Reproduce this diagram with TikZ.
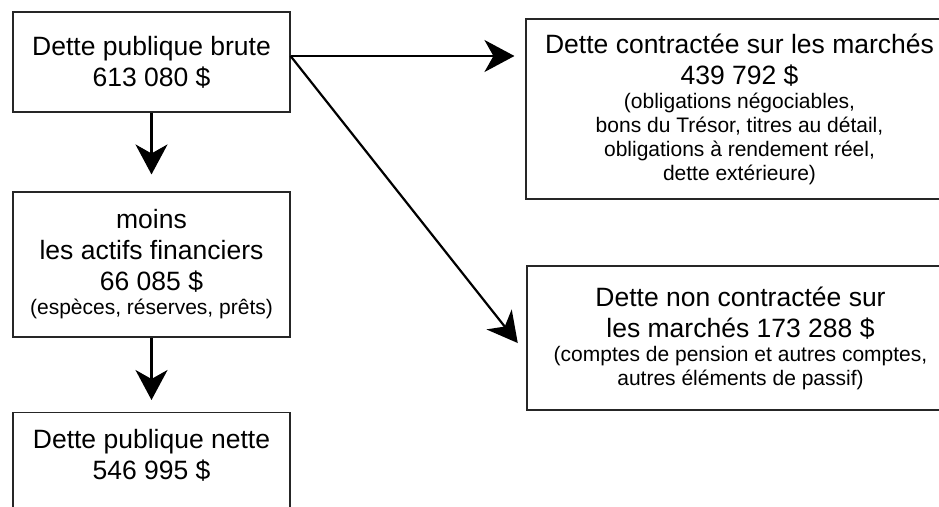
\documentclass[tikz,border=0pt]{standalone}
\usepackage{fontspec}
\usepackage{tikz}
\usetikzlibrary{arrows.meta}
\setmainfont{Liberation Sans}
\newcommand*{\scalePic}{1}
\newcommand*{\bigTxt}{\fontsize{26.5}{31}\selectfont}
\newcommand*{\smallTxt}{\fontsize{21}{23.5}\selectfont}
\newcommand*{\boxCol}{black!85}

\begin{document}
\begin{tikzpicture}[x=\scalePic pt, y=-\scalePic pt,
    box/.style={draw=\boxCol, line width=1.1pt, align=center, inner sep=0pt, font=\bigTxt},
    link/.style={line width=2.2pt, -{Stealth[length=30pt, width=32pt, inset=9pt]}}] {
\useasboundingbox (0,0) rectangle (939,506);
\clip (0,0) rectangle (939,506);
% left column
\node[box, minimum width=277pt, minimum height=100pt] (brute) at (151.5,62) {Dette publique brute\\613 080 \$};
\node[box, minimum width=277pt, minimum height=145pt] (actifs) at (151.5,264.5) {moins\\les actifs financiers\\66 085 \$\\[-7pt]{\smallTxt (espèces, réserves, prêts)}};
\node[box, minimum width=277pt, minimum height=130pt, anchor=north] (nette) at (151.5,412) {};
\node[align=center, font=\bigTxt, inner sep=0pt] (netteTxt) at (151.5,455) {Dette publique nette\\546 995 \$};
% right column
\node[box, minimum width=427pt, minimum height=180pt] (marche) at (739.5,109) {Dette contractée sur les marchés\\439 792 \$\\[-7pt]{\smallTxt (obligations négociables,}\\[-7pt]{\smallTxt bons du Trésor, titres au détail,}\\[-7pt]{\smallTxt obligations à rendement réel,}\\[-7pt]{\smallTxt dette extérieure)}};
\node[box, minimum width=427pt, minimum height=144pt] (horsMarche) at (740.5,338) {Dette non contractée sur\\les marchés 173 288 \$\\[-7pt]{\smallTxt (comptes de pension et autres comptes,}\\[-7pt]{\smallTxt autres éléments de passif)}};
% arrows
\coordinate (bruteOut) at ([yshift=6pt]brute.east);
\draw[link, shorten >=17pt] (brute) -- (actifs);
\draw[link, shorten >=12pt] (actifs) -- (nette);
\draw[link, shorten >=11pt] (bruteOut) -- (bruteOut -| marche.west);
\draw[link, shorten >=14pt] (bruteOut) -- ([yshift=-16pt]horsMarche.west);
}\end{tikzpicture}
\end{document}
